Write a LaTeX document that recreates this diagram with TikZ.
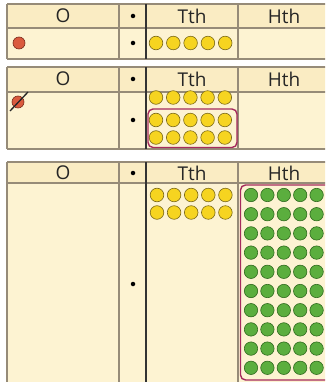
\documentclass[tikz,border=0pt]{standalone}
\usepackage{fontspec}
\setmainfont{Open Sans}
\definecolor{cream}{HTML}{FDF3D2}
\definecolor{headcream}{HTML}{FAECC3}
\definecolor{gridline}{HTML}{968B78}
\definecolor{yellowc}{HTML}{F6D420}
\definecolor{yellowe}{HTML}{7C6A18}
\definecolor{redc}{HTML}{DA5A3E}
\definecolor{rede}{HTML}{7A2A1A}
\definecolor{greenc}{HTML}{5BAE3E}
\definecolor{greene}{HTML}{2F6A1E}
\definecolor{boxcol}{HTML}{A52A5C}
\tikzset{
  hdr/.style={font=\fontsize{19}{21}\selectfont, text=black!85},
  gline/.style={draw=gridline, line width=1.3pt},
  dline/.style={draw=black!80, line width=1.1pt},
  ycnt/.style={circle, fill=yellowc, draw=yellowe, line width=0.6pt, minimum size=13.6pt, inner sep=0pt},
  gcnt/.style={circle, fill=greenc, draw=greene, line width=0.6pt, minimum size=13.4pt, inner sep=0pt},
  rcnt/.style={circle, fill=redc, draw=rede, line width=0.6pt, minimum size=12pt, inner sep=0pt},
  groupbox/.style={draw=boxcol, line width=1.4pt, rounded corners=5pt},
  ptdot/.style={circle, fill=black, inner sep=0pt, minimum size=4.5pt},
}
\begin{document}
\begin{tikzpicture}[x=1pt,y=-1pt]
\useasboundingbox (0,0) rectangle (325,382);
\fill[white] (0,0) rectangle (325,382);
\clip (0,0) rectangle (325,382);
% ---------- table 1 ----------
\fill[headcream] (7,4) rectangle (335,28);
\fill[cream] (7,28) rectangle (335,59);
\draw[gline] (7,4) -- (335,4) (7,28) -- (335,28) (7,59) -- (335,59);
\draw[gline] (7,4) -- (7,59) (119,4) -- (119,59) (238,4) -- (238,59);
\draw[dline] (146,4) -- (146,59);
\node[hdr] (t1o) at (63,16) {O};
\node[ptdot] (t1p) at (133,16) {};
\node[hdr] (t1t) at (192,16) {Tth};
\node[hdr] (t1h) at (284,16) {Hth};
\node[rcnt] (t1r) at (19,43) {};
\node[ptdot] (t1q) at (133,43) {};
\foreach \i in {0,...,4} { \node[ycnt] (t1y\i) at (156+17.3*\i,43) {}; }
% ---------- table 2 ----------
\fill[headcream] (7,67) rectangle (335,92);
\fill[cream] (7,92) rectangle (335,149);
\draw[gline] (7,67) -- (335,67) (7,92) -- (335,92) (7,149) -- (335,149);
\draw[gline] (7,67) -- (7,149) (119,67) -- (119,149) (238,67) -- (238,149);
\draw[dline] (146,67) -- (146,149);
\node[hdr] (t2o) at (63,79) {O};
\node[ptdot] (t2p) at (133,79) {};
\node[hdr] (t2t) at (192,79) {Tth};
\node[hdr] (t2h) at (284,79) {Hth};
\node[rcnt] (t2r) at (18,102) {};
\draw[black!85, line width=1.3pt] (10,111) -- (28,92);
\node[ptdot] (t2q) at (133,120) {};
\foreach \i in {0,...,4} {
  \node[ycnt] (t2a\i) at (156+17.2*\i,97.5) {};
  \node[ycnt] (t2b\i) at (156+17.2*\i,120) {};
  \node[ycnt] (t2c\i) at (156+17.2*\i,137.5) {};
}
\draw[groupbox] (148,109) rectangle (237,147.5);
% ---------- table 3 ----------
\fill[headcream] (7,162) rectangle (335,183);
\fill[cream] (7,183) rectangle (335,390);
\draw[gline] (7,162) -- (335,162) (7,183) -- (335,183);
\draw[gline] (7,162) -- (7,390) (119,162) -- (119,390) (238,162) -- (238,390);
\draw[dline] (146,162) -- (146,390);
\node[hdr] (t3o) at (63,173) {O};
\node[ptdot] (t3p) at (133,173) {};
\node[hdr] (t3t) at (192,173) {Tth};
\node[hdr] (t3h) at (284,173) {Hth};
\node[ptdot] (t3q) at (133,284) {};
\foreach \i in {0,...,4} {
  \node[ycnt] (t3a\i) at (157+17.1*\i,195) {};
  \node[ycnt] (t3b\i) at (157+17.1*\i,212.5) {};
}
\foreach \r in {0,...,9} {
  \foreach \i in {0,...,4} {
    \node[gcnt] (g\r\i) at (251+16.4*\i,195+19.2*\r) {};
  }
}
\draw[groupbox] (240.5,185) rectangle (340,380);
\end{tikzpicture}
\end{document}
